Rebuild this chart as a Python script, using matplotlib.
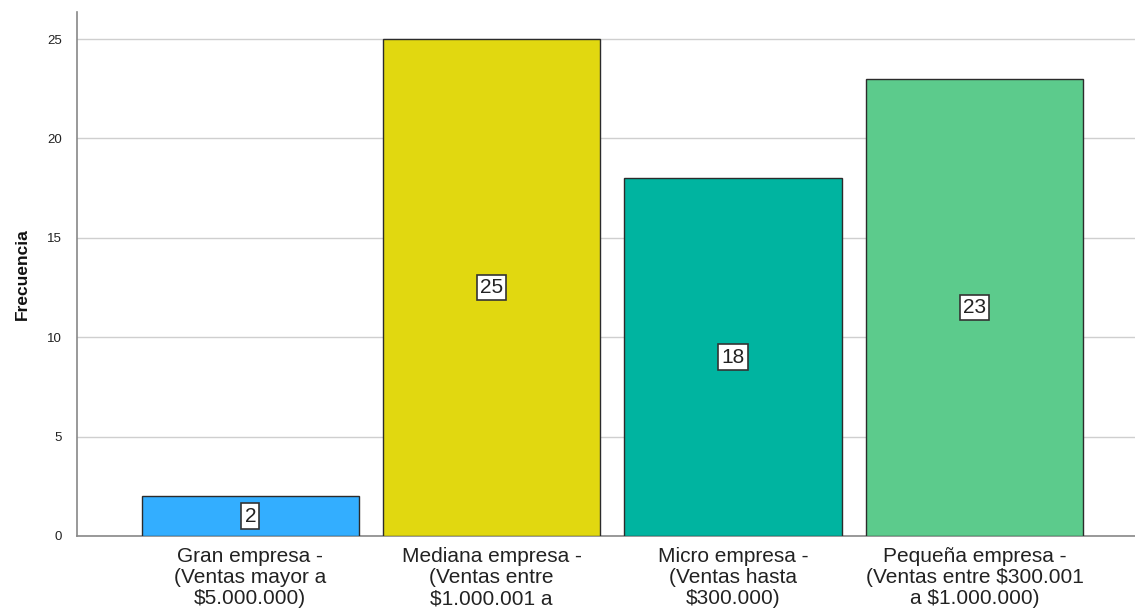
import matplotlib
matplotlib.use("Agg")
import matplotlib.pyplot as plt

categories = [
    "Gran empresa -\n(Ventas mayor a\n$5.000.000)",
    "Mediana empresa -\n(Ventas entre\n$1.000.001 a",
    "Micro empresa -\n(Ventas hasta\n$300.000)",
    "Pequeña empresa -\n(Ventas entre $300.001\na $1.000.000)",
]
values = [2, 25, 18, 23]
colors = ["#33aeff", "#e1d810", "#00b4a0", "#5ccb8c"]
yticks = [0, 5, 10, 15, 20, 25]

plt.rcParams['font.family'] = ['Liberation Sans', 'DejaVu Sans']

fig = plt.figure(figsize=(11.35, 6.10), dpi=100)
ax = fig.add_axes([77/1135, 1-536/610, 1-77/1135, (536-12)/610])

x = list(range(len(categories)))
ax.bar(x, values, width=0.9, color=colors, edgecolor="#2b2b2b", linewidth=1.0, zorder=3)

for xi, v in zip(x, values):
    ax.text(xi, v/2, str(v), ha="center", va="center", fontsize=15, color="#222222", zorder=4,
            bbox=dict(boxstyle="square,pad=0.15", facecolor="white", edgecolor="#333333", linewidth=1.2))

ax.set_xlim(-0.718, 3.665)
ax.set_ylim(0, 26.36)
ax.set_yticks(yticks)
ax.set_yticklabels([str(t) for t in yticks], fontsize=9.5, color="#222222")
ax.set_xticks(x)
ax.set_xticklabels(categories, fontsize=15, color="#222222", linespacing=1.14, va="top")
ax.tick_params(axis="both", length=0)
ax.tick_params(axis="y", pad=11)
ax.tick_params(axis="x", pad=8)
ax.yaxis.grid(True, color="#cfcfcf", linewidth=1.0, zorder=0)
ax.set_axisbelow(True)
for s in ["top", "right"]:
    ax.spines[s].set_visible(False)
ax.spines["left"].set_color("#888888")
ax.spines["bottom"].set_color("#888888")
ax.spines["left"].set_linewidth(1.2)
ax.spines["bottom"].set_linewidth(1.2)
ax.set_ylabel("Frecuencia", fontsize=12.5, fontweight="bold", color="#111111", labelpad=12)

fig.savefig("out.png", dpi=100)
